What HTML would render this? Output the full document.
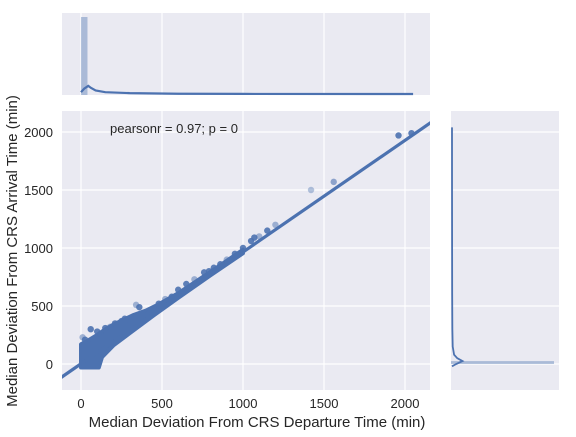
<!DOCTYPE html>
<html><head><meta charset="utf-8"><style>
body{margin:0;background:#fff}
svg text{font-family:"Liberation Sans",sans-serif;fill:#262626}
</style></head><body>
<svg id="c" width="576" height="432" viewBox="0 0 576 432" xmlns="http://www.w3.org/2000/svg">
<rect x="62" y="13" width="368" height="82" fill="#eaeaf2"/>
<rect x="62" y="111" width="368" height="279" fill="#eaeaf2"/>
<rect x="451" y="111" width="108" height="279" fill="#eaeaf2"/>
<g id="grid"></g>
<g id="marks"></g>
<g id="labels"></g>
<text x="110" y="133" font-size="13">pearsonr = 0.97; p = 0</text>
<text x="257" y="427" font-size="15" text-anchor="middle">Median Deviation From CRS Departure Time (min)</text>
<text transform="translate(17,251) rotate(-90)" font-size="15" text-anchor="middle">Median Deviation From CRS Arrival Time (min)</text>
</svg>
<script>
const xTicks=[0,500,1000,1500,2000];
const yTicks=[0,500,1000,1500,2000];
const bandX=[0,0,40,100,150,200,260,320,400,480,600,800,1000,1000,800,600,450,300,200,130,110];
const bandY=[-30,170,200,250,300,340,380,420,460,515,610,795,985,955,765,570,420,265,160,60,-30];
const ptX=[10,25,60,100,120,180,210,300,340,360,420,480,520,560,600,650,700,760,790,820,860,900,950,1000,1050,1070,1100,1150,1200,1420,1560,1960,2040,150,250,270];
const ptY=[230,210,300,280,260,320,350,380,510,490,440,520,560,580,640,690,730,790,800,830,860,900,950,1000,1060,1090,1100,1150,1200,1500,1570,1970,1990,310,370,390];
const ptA=[0.5,0.9,0.9,0.9,0.5,0.5,0.9,0.9,0.5,0.9,0.5,0.9,0.5,0.9,0.9,0.9,0.5,0.9,0.9,0.9,0.9,0.5,0.9,0.9,0.9,0.9,0.5,0.9,0.5,0.4,0.6,0.9,0.9,0.9,0.9,0.9];
const regSlope=0.963, regIntercept=2;
const kdeTopX=[0,20,45,60,90,150,300,600,1000,2050];
const kdeTopD=[0.02,0.06,0.09,0.07,0.04,0.02,0.01,0.003,0.001,0];
const kdeRightY=[-20,0,25,50,80,150,300,600,1000,1500,2040];
const kdeRightD=[0,0.12,0.3,0.15,0.06,0.02,0.01,0.005,0.003,0.001,0];
const histTopX=[0,40];const histTopH=[1.0];
const histRightY=[0,25];const histRightW=[1.0];
const C='#4c72b0',NS='http://www.w3.org/2000/svg';
const sx=v=>81+v*0.162, sy=v=>364-v*0.116;
const g=document.getElementById('grid'),m=document.getElementById('marks'),l=document.getElementById('labels');
function el(t,a,p){const e=document.createElementNS(NS,t);for(const k in a)e.setAttribute(k,a[k]);p.appendChild(e);return e;}
xTicks.forEach(v=>{
 const a=el('line',{x1:sx(v),x2:sx(v),y1:111,y2:390,stroke:'#fff','stroke-width':1.2},g);
 
 const b=el('line',{x1:sx(v),x2:sx(v),y1:13,y2:95,stroke:'#fff','stroke-width':1.2},g);
 
 const t=el('text',{x:sx(v),y:408,'font-size':13,'text-anchor':'middle'},l);t.textContent=v;
 
});
yTicks.forEach(v=>{
 const a=el('line',{x1:62,x2:430,y1:sy(v),y2:sy(v),stroke:'#fff','stroke-width':1.2},g);
 
 const b=el('line',{x1:451,x2:559,y1:sy(v),y2:sy(v),stroke:'#fff','stroke-width':1.2},g);
 
 const t=el('text',{x:53,y:sy(v)+5,'font-size':13,'text-anchor':'end'},l);t.textContent=v;
 
});
const band=el('polygon',{points:bandX.map((x,i)=>sx(x)+','+sy(bandY[i])).join(' '),fill:C,stroke:C,'stroke-width':4,'stroke-linejoin':'round'},m);

ptX.forEach((x,i)=>{const c=el('circle',{cx:sx(x),cy:sy(ptY[i]),r:3.2,fill:C,'fill-opacity':ptA[i]},m);
 });
const clip=el('clipPath',{id:'cl'},m);el('rect',{x:62,y:111,width:368,height:279},clip);
const x0=-200,x1=2300;
const rl=el('line',{x1:sx(x0),y1:sy(regIntercept+regSlope*x0),x2:sx(x1),y2:sy(regIntercept+regSlope*x1),stroke:C,'stroke-width':3.2,'clip-path':'url(#cl)'},m);

const hTop=el('rect',{x:sx(histTopX[0]),y:95-histTopH[0]*78,width:sx(histTopX[1])-sx(histTopX[0]),height:histTopH[0]*78,fill:C,'fill-opacity':0.4},m);

const kt=el('path',{d:'M'+kdeTopX.map((x,i)=>sx(x)+','+(94-kdeTopD[i]*90)).join(' L'),fill:'none',stroke:C,'stroke-width':2.2},m);

const hR=el('rect',{x:451,y:sy(histRightY[1]),width:histRightW[0]*103,height:sy(histRightY[0])-sy(histRightY[1]),fill:C,'fill-opacity':0.4},m);

const kr=el('path',{d:'M'+kdeRightY.map((y,i)=>(452+kdeRightD[i]*35)+','+sy(y)).join(' L'),fill:'none',stroke:C,'stroke-width':1.8},m);

</script>
</body></html>
